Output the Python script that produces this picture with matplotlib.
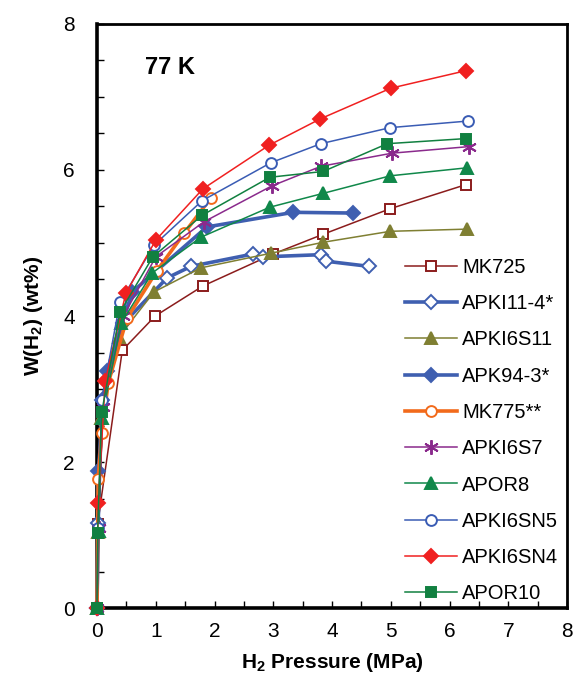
import numpy as np
import matplotlib as mpl
mpl.use('Agg')
import matplotlib.pyplot as plt
from matplotlib.ticker import MultipleLocator

mpl.rcParams['font.family'] = 'Liberation Sans'
mpl.rcParams['mathtext.fontset'] = 'custom'
mpl.rcParams['mathtext.rm'] = 'Liberation Sans'
mpl.rcParams['mathtext.bf'] = 'Liberation Sans:bold'

mk725_x = [0, 0.01, 0.43, 0.99, 1.8, 3.0, 3.85, 4.99, 6.28]
mk725_y = [0, 1.15, 3.53, 4.0, 4.41, 4.85, 5.12, 5.47, 5.80]

apki11_x = [0, 0.02, 0.08, 0.45, 1.19, 1.6, 2.66, 2.83, 3.81, 3.9, 4.63]
apki11_y = [0, 1.16, 2.85, 3.9, 4.52, 4.68, 4.85, 4.81, 4.84, 4.75, 4.68]

apki6s11_x = [0, 0.01, 0.06, 0.37, 0.97, 1.77, 2.96, 3.85, 4.99, 6.3]
apki6s11_y = [0, 1.04, 2.6, 3.71, 4.33, 4.66, 4.86, 5.01, 5.16, 5.19]

apk94_x = [0, 0.02, 0.17, 0.6, 1.87, 3.34, 4.36]
apk94_y = [0, 1.88, 3.25, 4.33, 5.22, 5.42, 5.41]

mk775_x = [0, 0.02, 0.08, 0.19, 0.51, 1.02, 1.48, 1.94]
mk775_y = [0, 1.77, 2.4, 3.08, 3.97, 4.62, 5.13, 5.62]

apki6s7_x = [0, 0.03, 0.1, 0.45, 1.0, 1.82, 2.97, 3.81, 5.02, 6.33]
apki6s7_y = [0, 1.1, 2.75, 4.0, 4.81, 5.29, 5.78, 6.05, 6.23, 6.32]

apor8_x = [0, 0.03, 0.08, 0.41, 0.94, 1.77, 2.94, 3.85, 4.99, 6.3]
apor8_y = [0, 1.05, 2.6, 3.9, 4.59, 5.08, 5.49, 5.68, 5.92, 6.03]

apki6sn5_x = [0, 0.02, 0.08, 0.39, 0.97, 1.79, 2.96, 3.81, 4.99, 6.31]
apki6sn5_y = [0, 1.1, 2.85, 4.19, 4.97, 5.58, 6.1, 6.36, 6.58, 6.67]

apki6sn4_x = [0, 0.02, 0.14, 0.49, 1.0, 1.8, 2.93, 3.8, 5.0, 6.28]
apki6sn4_y = [0, 1.44, 3.11, 4.31, 5.04, 5.74, 6.34, 6.7, 7.12, 7.36]

apor10_x = [0, 0.01, 0.08, 0.39, 0.95, 1.79, 2.94, 3.85, 4.94, 6.28]
apor10_y = [0, 1.03, 2.68, 4.05, 4.81, 5.38, 5.9, 5.98, 6.36, 6.43]

fig = plt.figure(figsize=(5.74, 6.84), dpi=100)
ax = fig.add_axes([0.169, 0.111, 0.819, 0.854])

# label, x, y, colour, marker, filled, linewidth
series = [
    ('MK725', mk725_x, mk725_y, '#8b1c1c', 's', False, 1.1),
    ('APKI11-4*', apki11_x, apki11_y, '#3f5fb0', 'D', False, 2.6),
    ('APKI6S11', apki6s11_x, apki6s11_y, '#7f7f32', '^', True, 1.1),
    ('APK94-3*', apk94_x, apk94_y, '#3f5fb0', 'D', True, 2.6),
    ('MK775**', mk775_x, mk775_y, '#f26a1b', 'o', False, 2.6),
    ('APKI6S7', apki6s7_x, apki6s7_y, '#8a2a8c', (6, 2, 0), True, 1.1),
    ('APOR8', apor8_x, apor8_y, '#10884a', '^', True, 1.1),
    ('APKI6SN5', apki6sn5_x, apki6sn5_y, '#3a5cb4', 'o', False, 1.1),
    ('APKI6SN4', apki6sn4_x, apki6sn4_y, '#f02020', 'D', True, 1.1),
    ('APOR10', apor10_x, apor10_y, '#118040', 's', True, 1.1),
]

for label, xs, ys, c, m, filled, lw in series:
    ms = 7.8
    if m == 'D':
        ms = 7.3
    if m == '^':
        ms = 9
    if isinstance(m, tuple):
        ms = 10.5
    ax.plot(xs, ys, color=c, lw=lw, marker=m, ms=ms,
            mfc=c if filled else 'white', mec=c, mew=1.4, label=label,
            clip_on=False, zorder=3)

ax.set_xlim(0, 8)
ax.set_ylim(0, 8)
ax.xaxis.set_major_locator(MultipleLocator(1))
ax.xaxis.set_minor_locator(MultipleLocator(0.5))
ax.yaxis.set_major_locator(MultipleLocator(2))
ax.yaxis.set_minor_locator(MultipleLocator(0.5))
ax.tick_params(which='both', direction='in', length=5, width=1, labelsize=15)
ax.tick_params(axis='x', pad=10)
ax.tick_params(axis='y', pad=16)

for s in ['left', 'bottom']:
    ax.spines[s].set_linewidth(2.6)
for s in ['top', 'right']:
    ax.spines[s].set_linewidth(2.0)

ax.set_xlabel(r'H$_\mathbf{2}$ Pressure (MPa)', fontsize=15, fontweight='bold', labelpad=7)
ax.set_ylabel(r'W(H$_\mathbf{2}$) (wt%)', fontsize=15, fontweight='bold', labelpad=13)

ax.text(0.102, 0.926, '77 K', transform=ax.transAxes, fontsize=17,
        fontweight='bold', va='center')

ax.legend(loc='upper left', bbox_to_anchor=(0.655, 0.6), frameon=False,
          fontsize=14.5, handlelength=2.6, handletextpad=0.25, labelspacing=0.86,
          borderpad=0, borderaxespad=0)

fig.savefig('out.png', dpi=100)
